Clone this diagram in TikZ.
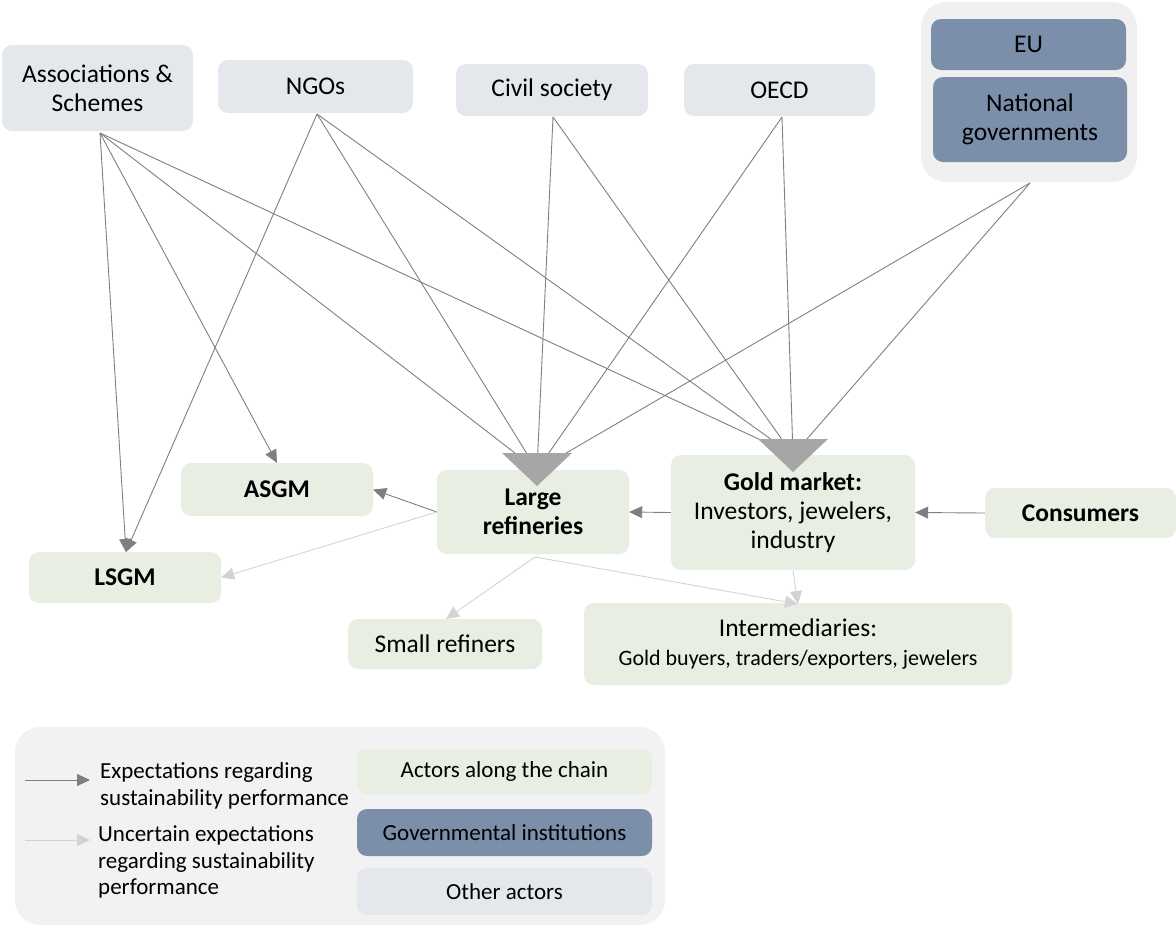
\documentclass[tikz,border=0pt]{standalone}
\usepackage{fontspec}
\setmainfont{Carlito}
\usetikzlibrary{arrows.meta}

\definecolor{otherfill}{HTML}{E4E7EC}
\definecolor{chainfill}{HTML}{E9EEE3}
\definecolor{govfill}{HTML}{7B8FAA}
\definecolor{groupbg}{HTML}{F0F0F0}
\definecolor{legendbg}{HTML}{F2F2F2}
\definecolor{darkline}{HTML}{7F7F7F}
\definecolor{lightline}{HTML}{D3D3D3}
\definecolor{bigtip}{HTML}{A6A6A6}

\tikzset{
  box/.style={rounded corners=10pt, inner sep=0pt, align=center,
    font=\fontsize{25.5}{29}\selectfont},
  other/.style={box, fill=otherfill},
  chain/.style={box, fill=chainfill},
  gov/.style={box, fill=govfill},
  legendbox/.style={minimum width=295pt, font=\fontsize{23}{27}\selectfont},
  expect/.style={draw=darkline, line width=0.9pt,
    -{Triangle[length=13pt,width=12pt]}},
  uncertain/.style={draw=lightline, line width=0.9pt,
    -{Triangle[length=13pt,width=12pt]}},
  fanline/.style={draw=darkline, line width=0.9pt},
  legendtext/.style={align=left, anchor=west, inner sep=0pt,
    font=\fontsize{23}{26.5}\selectfont},
}

\begin{document}
\begin{tikzpicture}[x=1pt, y=-1pt]
\useasboundingbox (0,0) rectangle (1176,927);

% group of governmental institutions and legend panel
\fill[groupbg, rounded corners=25pt] (921,2) rectangle (1137,182);
\fill[legendbg, rounded corners=25pt] (15,727) rectangle (665,925);

% other actors
\node[other, minimum width=191pt, minimum height=86pt] (assoc) at (97.5,88) {Associations \&\\Schemes};
\node[other, minimum width=195pt, minimum height=53pt] (ngo) at (315.5,86.5) {NGOs};
\node[other, minimum width=192pt, minimum height=52pt] (civil) at (552,90) {Civil society};
\node[other, minimum width=191pt, minimum height=52pt] (oecd) at (779.5,90) {OECD};

% governmental institutions
\node[gov, minimum width=195pt, minimum height=51pt] (eu) at (1028.5,44.5) {EU};
\node[gov, minimum width=194pt, minimum height=85pt] (natgov) at (1030,119.5) {National\\governments};

% actors along the chain
\node[chain, minimum width=192pt, minimum height=53pt] (asgm) at (277,489.5) {\textbf{ASGM}};
\node[chain, minimum width=192pt, minimum height=84pt] (largeref) at (533,512) {\textbf{Large}\\\textbf{refineries}};
\node[chain, minimum width=244pt, minimum height=115pt] (goldm) at (793,512.5) {\textbf{Gold market:}\\Investors, jewelers,\\industry};
\node[chain, minimum width=191pt, minimum height=50pt] (consumers) at (1080.5,513) {\textbf{Consumers}};
\node[chain, minimum width=192pt, minimum height=51pt] (lsgm) at (125,577.5) {\textbf{LSGM}};
\node[chain, minimum width=194pt, minimum height=50pt] (smallref) at (445,644) {Small refiners};
\node[chain, minimum width=428pt, minimum height=82pt] (interm) at (798,644) {Intermediaries:\\{\fontsize{22}{27}\selectfont Gold buyers, traders/exporters, jewelers}};

% fan origins and convergence points
\coordinate (assocS) at (100,133);
\coordinate (ngoS) at (317,114);
\coordinate (civilS) at (553,117);
\coordinate (oecdS) at (782,117);
\coordinate (govS) at (1030,183);
\coordinate (lrIn) at (537,470);
\coordinate (gmIn) at (793,455);
\coordinate (lsgmIn) at (126,552);
\coordinate (asgmIn) at (277,463);

% expectations directed at large refineries and the gold market
\foreach \src in {assocS, ngoS, civilS, oecdS, govS} {
  \draw[fanline] (\src) -- (lrIn);
  \draw[fanline] (\src) -- (gmIn);
}
\fill[bigtip] (502,453) -- (572,453) -- (537,486) -- cycle;
\fill[bigtip] (758,439) -- (828,439) -- (793,472) -- cycle;

% expectations directed at mining
\draw[expect] (assocS) -- (lsgmIn);
\draw[expect] (ngoS) -- (lsgmIn);
\draw[expect] (assocS) -- (asgmIn);

% expectations along the chain
\draw[expect] (goldm.west) -- (largeref.east);
\draw[expect] (consumers.west) -- (goldm.east);
\draw[expect] (largeref.west) -- (asgm.east);

% uncertain expectations
\coordinate (lrBot) at (535,557);
\coordinate (gmBot) at (793,571);
\coordinate (intIn) at (798,604);
\coordinate (smIn) at (446,619);
\draw[uncertain] (largeref.west) -- (lsgm.east);
\draw[uncertain] (lrBot) -- (smIn);
\draw[uncertain] (lrBot) -- (intIn);
\draw[uncertain] (gmBot) -- (intIn);

% legend
\coordinate (la1s) at (25,780);
\coordinate (la1e) at (90,780);
\coordinate (la2s) at (25,840);
\coordinate (la2e) at (90,840);
\draw[expect] (la1s) -- (la1e);
\draw[uncertain] (la2s) -- (la2e);
\node[legendtext] (lt1) at (100,786) {Expectations regarding\\sustainability performance};
\node[legendtext] (lt2) at (98,862) {Uncertain expectations\\regarding sustainability\\performance};
\node[chain, legendbox, minimum height=45pt] (lgchain) at (504.5,771.5) {Actors along the chain};
\node[gov, legendbox, minimum height=47pt] (lggov) at (504.5,832.5) {Governmental institutions};
\node[other, legendbox, minimum height=47pt] (lgother) at (504.5,891.5) {Other actors};
\end{tikzpicture}
\end{document}
